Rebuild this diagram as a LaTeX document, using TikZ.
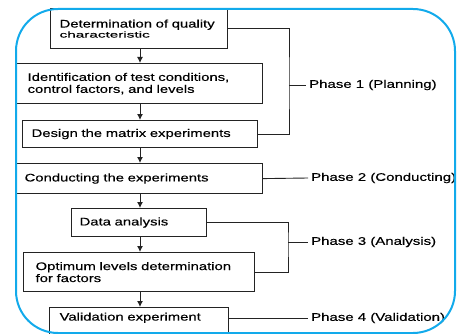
\documentclass[tikz,border=0pt]{standalone}
\usepackage{fontspec}
\setmainfont{Liberation Sans}[FakeStretch=1.35, FakeBold=0.35]
\newfontfamily\charfont{Liberation Sans}[FakeStretch=1.8, FakeBold=0.35]
\definecolor{framecyan}{RGB}{18,170,235}
\definecolor{inkgray}{RGB}{35,35,35}
\usetikzlibrary{arrows.meta}
\tikzset{
  stage/.style={draw=inkgray, line width=1.2pt, anchor=north west, align=left,
    inner xsep=9pt, inner ysep=0pt, text=black, font=\fontsize{11}{12}\selectfont},
  phase/.style={anchor=west, inner xsep=3pt, inner ysep=0pt, font=\fontsize{11.1}{12}\selectfont},
  flow/.style={draw=inkgray, line width=1pt, -{Latex[length=6pt,width=6pt]}},
  link/.style={draw=inkgray, line width=0.9pt}
}

\begin{document}
\begin{tikzpicture}[x=1pt, y=-1pt]
  \useasboundingbox (0,0) rectangle (457,334);

  \node [stage, text width=159pt, minimum height=40pt] (b1) at (50,8)
    {Determination of quality\\[-2pt]{\charfont\fontsize{8.5}{12}\selectfont characteristic}};
  \node [stage, inner xsep=11pt, text width=224pt, minimum height=40pt] (b2) at (16,63)
    {Identification of test conditions,\\control factors, and levels};
  \node [stage, text width=217pt, minimum height=27pt] (b3) at (22,120)
    {Design the matrix experiments};
  \node [stage, inner xsep=8pt, text width=230pt, minimum height=30pt] (b4) at (16,163)
    {Conducting the experiments};
  \node [stage, inner xsep=8pt, text width=119pt, minimum height=28pt] (b5) at (71,208)
    {Data analysis};
  \node [stage, inner xsep=12pt, text width=207pt, minimum height=39pt] (b6) at (23,252)
    {Optimum levels determination\\for factors};
  \node [stage, inner xsep=10pt, text width=159pt, minimum height=30pt, text depth=12pt] (b7) at (49,307)
    {Validation experiment};

  % flow down the middle
  \coordinate (spine) at (140,0);
  \draw [flow] (b1.south -| spine) -- (b2.north -| spine);
  \draw [flow] (b2.south -| spine) -- (b3.north -| spine);
  \draw [flow] (b3.south -| spine) -- (b4.north -| spine);
  \draw [flow] (b4.south -| spine) -- (b5.north -| spine);
  \draw [flow] (b5.south -| spine) -- (b6.north -| spine);
  \draw [flow] (b6.south -| spine) -- (b7.north -| spine);

  % phases
  \node [phase] (p1) at (306,85) {Phase 1 (Planning)};
  \node [phase] (p2) at (308,178) {Phase 2 (Conducting)};
  \node [phase] (p3) at (308,242) {Phase 3 (Analysis)};
  \node [phase] (p4) at (308,318) {Phase 4 (Validation)};

  \coordinate (j1) at (289,85);
  \coordinate (j3) at (288,242);
  \draw [link] (b1.east) -| (j1) |- (b3.east);
  \draw [link] (j1) -- (p1.west);
  \draw [link] (b4.east) -- (p2.west);
  \draw [link] (b5.east) -| (j3) |- (b6.east);
  \draw [link] (j3) -- (p3.west);
  \draw [link] (b7.east |- p4.west) -- (p4.west);

  \draw [framecyan, line width=2pt, rounded corners=42pt] (16,9) rectangle (455,333);
\end{tikzpicture}
\end{document}
